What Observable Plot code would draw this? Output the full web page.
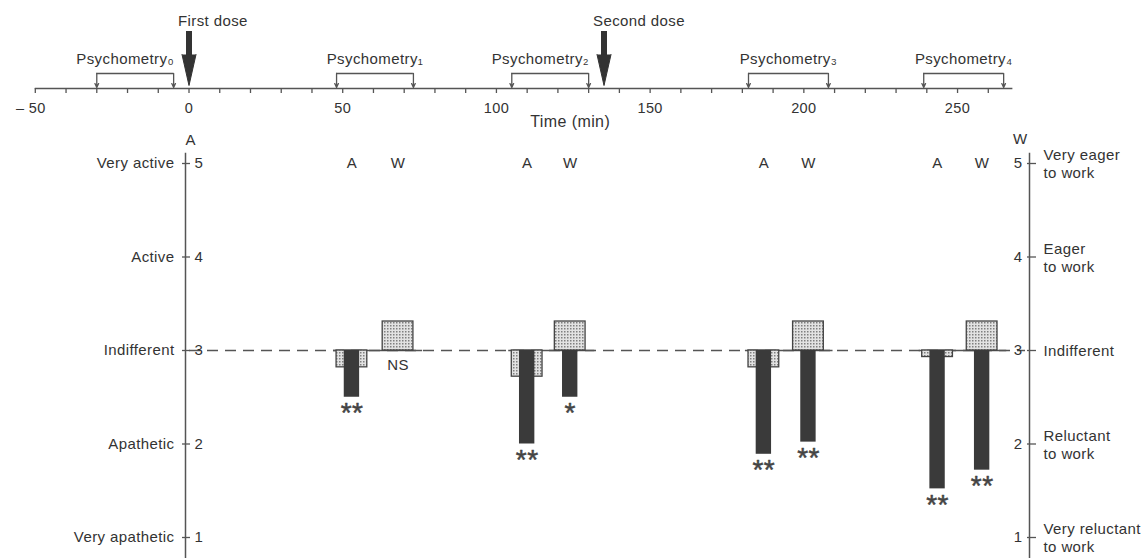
<!DOCTYPE html>
<html><head><meta charset="utf-8">
<script src="https://cdn.jsdelivr.net/npm/d3@7"></script>
<script src="https://cdn.jsdelivr.net/npm/@observablehq/plot@0.6"></script>
<style>body{margin:0;background:#fff} #chart svg{display:block;overflow:visible}</style>
</head><body><div id="chart"></div>
<script>
// ---- data ----
const sessionNames = ["Psychometry₀","Psychometry₁","Psychometry₂","Psychometry₃","Psychometry₄"];
const sessionStart = [-30, 48, 105, 182, 239];
const sessionEnd = [-5, 73, 130, 208, 265];
const doseNames = ["First dose","Second dose"];
const doseTimes = [0, 135];
const timeTicks = d3.range(-50, 261, 10);
const timeLabels = [-50, 0, 50, 100, 150, 200, 250];
const aTimes = [53, 110, 187, 243.5];
const wTimes = [68, 124, 201.5, 258];
const aPlacebo = [2.82, 2.72, 2.82, 2.93];
const aDrug = [2.50, 2.00, 1.89, 1.52];
const wPlacebo = [3.31, 3.31, 3.31, 3.31];
const wDrug = [3.00, 2.50, 2.02, 1.72];
const aSig = ["**", "**", "**", "**"];
const wSig = ["NS", "*", "**", "**"];
const scoreTicks = [1, 2, 3, 4, 5];
const activityLabels = ["Very apathetic", "Apathetic", "Indifferent", "Active", "Very active"];
const workLabels = ["Very reluctant\nto work", "Reluctant\nto work", "Indifferent", "Eager\nto work", "Very eager\nto work"];

// ---- tables ----
const sessions = sessionNames.map((name, i) => {
  const end = sessionEnd[i];
  const dose = doseTimes.find(t => t >= end && t - end <= 10);
  return {name, start: sessionStart[i], end, dose};
});
const endpoints = sessions.flatMap(s => [{t: s.start}, {t: s.end}]);
const doses = doseNames.map((name, i) => ({name, t: doseTimes[i]}));
const groups = aTimes.map((t, i) => ({a: t, w: wTimes[i]}));
const bars = [];
aTimes.forEach((t, i) => {
  bars.push({t, col: "A", placebo: aPlacebo[i], drug: aDrug[i], sig: aSig[i]});
  bars.push({t: wTimes[i], col: "W", placebo: wPlacebo[i], drug: wDrug[i], sig: wSig[i]});
});

const ink = "#333";
const line = "#555";
const xDomain = [-50, 275];
const xRange = [34.8, 1033.9];
const style = {fontFamily: "'Liberation Sans', Arial, sans-serif", fontSize: "15px", color: ink, background: "#fff", letterSpacing: "0.4px", overflow: "visible"};

const topChart = Plot.plot({
  width: 1144, height: 130,
  marginTop: 0, marginBottom: 42, marginLeft: 0, marginRight: 0,
  style,
  x: {domain: xDomain, range: xRange},
  y: {domain: [0, 88], range: [88, 0], axis: null},
  marks: [
    Plot.ruleY([0], {x1: -50, x2: 268, stroke: line, strokeWidth: 1.5}),
    Plot.axisX({ticks: timeTicks, tickSize: 5, tickPadding: 9, stroke: line, strokeWidth: 1.3,
      fontSize: 14.5,
      tickFormat: d => timeLabels.includes(d) ? (d < 0 ? "– " + (-d) + "  " : String(d)) : ""}),
    Plot.ruleY(sessions, {x1: "start", x2: "end", y: 15, stroke: line, strokeWidth: 1.3}),
    Plot.arrow(endpoints, {x1: "t", x2: "t", y1: 15, y2: 1, headLength: 5, headAngle: 50, stroke: line, strokeWidth: 1.3}),
    Plot.text(sessions.filter(d => d.dose === undefined), {x: d => (d.start + d.end) / 2, y: 15, dy: -10, lineAnchor: "bottom", text: "name"}),
    Plot.text(sessions.filter(d => d.dose !== undefined), {x: "dose", y: 15, dy: -10, dx: -15, textAnchor: "end", lineAnchor: "bottom", text: "name"}),
    Plot.ruleX(doses, {x: "t", y1: 57, y2: 33, stroke: ink, strokeWidth: 6}),
    Plot.vector(doses, {x: "t", y: 34, length: 31, r: 7, rotate: 180, shape: "spike", anchor: "start", fill: ink, stroke: ink, strokeWidth: 1}),
    Plot.text(doses, {x: "t", y: 67, text: "name", textAnchor: "start", dx: -11}),
    Plot.text([{t: 124, label: "Time (min)"}], {x: "t", y: -33, text: "label", fontSize: 16})
  ]
});

const bottomChart = Plot.plot({
  width: 1144, height: 428,
  marginTop: 23, marginBottom: 0, marginLeft: 185, marginRight: 115,
  style,
  x: {domain: xDomain, range: xRange, axis: null},
  y: {domain: [1, 5], range: [407, 33]},
  marks: [
    Plot.ruleY([3], {stroke: line, strokeWidth: 1.4, strokeDasharray: "11,7", insetLeft: 4, insetRight: 4}),
    Plot.ruleY(groups, {y: () => 3, x1: d => d.a - 6, x2: d => d.w + 8, stroke: line, strokeWidth: 1.4}),
    Plot.rect(bars, {x1: d => d.t - 5, x2: d => d.t + 5, y1: () => 3, y2: "placebo", fill: "url(#stipple)", stroke: "#444", strokeWidth: 1.3}),
    Plot.rect(bars.filter(d => d.drug < 3), {x1: d => d.t - 2.5, x2: d => d.t + 2.5, y1: () => 3, y2: "drug", fill: "#3a3a3a"}),
    Plot.text(bars.filter(d => d.sig !== "NS"), {x: "t", y: "drug", text: "sig", fontSize: 28, lineAnchor: "top", dy: 5, fill: "#444", stroke: "#444", strokeWidth: 0.5, letterSpacing: "-0.5px"}),
    Plot.text(bars.filter(d => d.sig === "NS"), {x: "t", y: d => Math.min(d.drug, 3), text: "sig", lineAnchor: "top", dy: 9}),
    Plot.text(bars, {x: "t", y: () => 5, text: "col"}),
    Plot.frame({anchor: "left", stroke: line, strokeWidth: 1.5}),
    Plot.frame({anchor: "right", stroke: line, strokeWidth: 1.5}),
    Plot.axisY({anchor: "left", ticks: scoreTicks, tickSize: 8, dx: 5, stroke: line, strokeWidth: 1.3, tickFormat: () => "", label: null}),
    Plot.axisY({anchor: "right", ticks: scoreTicks, tickSize: 9, dx: -3, stroke: line, strokeWidth: 1.3, tickFormat: () => "", label: null}),
    Plot.axisY({anchor: "left", ticks: scoreTicks, tickSize: 0, tickPadding: 11, label: null, tickFormat: d => activityLabels[d - 1]}),
    Plot.axisY({anchor: "right", ticks: scoreTicks, tickSize: 0, tickPadding: 14, label: null, lineHeight: 1.2, tickFormat: d => workLabels[d - 1]}),
    Plot.text(scoreTicks, {y: d => d, text: d => String(d), frameAnchor: "left", dx: 9, textAnchor: "start"}),
    Plot.text(scoreTicks, {y: d => d, text: d => String(d), frameAnchor: "right", dx: -7, textAnchor: "end"}),
    Plot.text(["A"], {frameAnchor: "top-left", dy: -19}),
    Plot.text(["W"], {frameAnchor: "top-right", dx: -2, dy: -20})
  ]
});

const ns = "http://www.w3.org/2000/svg";
const defs = document.createElementNS(ns, "defs");
defs.innerHTML = '<pattern id="stipple" width="3" height="3" patternUnits="userSpaceOnUse"><rect width="3" height="3" fill="#e2e2e2"/><rect width="1.5" height="1.5" fill="#808080"/></pattern>';
bottomChart.insertBefore(defs, bottomChart.firstChild);

document.getElementById("chart").append(topChart, bottomChart);
</script>
</body></html>
